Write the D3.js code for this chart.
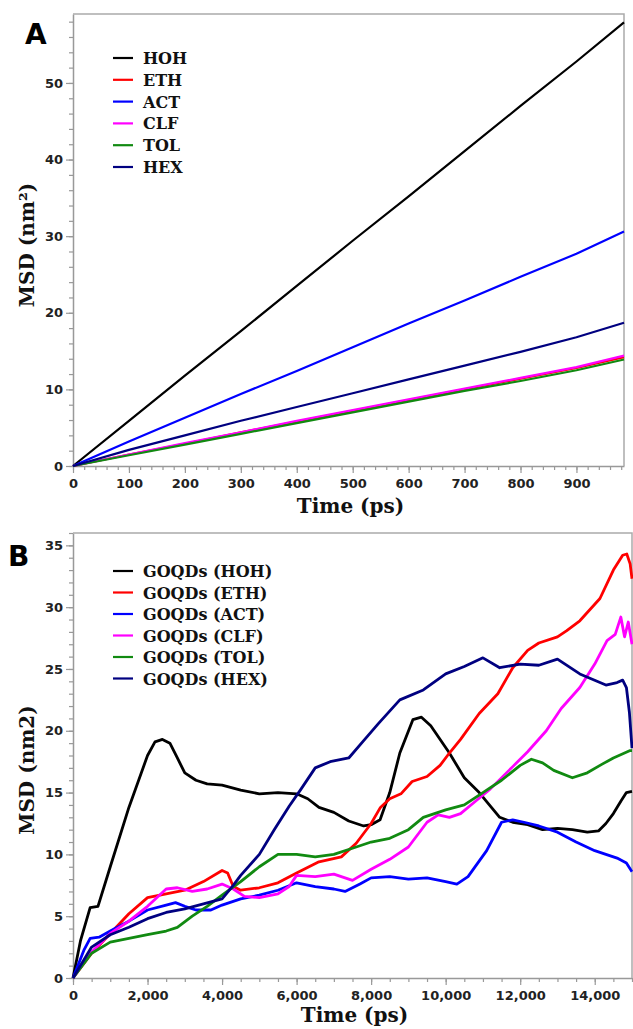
<!DOCTYPE html>
<html>
<head>
<meta charset="utf-8">
<script src="https://cdn.jsdelivr.net/npm/d3@7"></script>
<style>
  body { margin: 0; background: #fff; }
  .tick text { font-family: "DejaVu Sans", sans-serif; font-weight: bold; font-size: 13px; fill: #222; }
  .domain { stroke: #999; stroke-width: 1.5; }
  .tick line { stroke: #999; stroke-width: 1.2; }
  .ttl { font-family: "DejaVu Serif", serif; font-weight: bold; font-size: 20px; fill: #111; }
  .leg { font-family: "DejaVu Serif", serif; font-weight: bold; font-size: 16px; fill: #111; }
  .panel { font-family: "DejaVu Sans", sans-serif; font-weight: bold; font-size: 28px; fill: #000; }
</style>
</head>
<body>
<div id="chart"></div>
<script>
const WIDTH = 633;
const HEIGHT = 1029;

// panel A: MSD of pure solvents
const namesA = ["HOH", "ETH", "ACT", "CLF", "TOL", "HEX"];
const timesA = [0, 100, 200, 300, 400, 500, 600, 700, 800, 900, 985];
const hohA = [0, 5.9, 11.8, 17.6, 23.5, 29.4, 35.2, 41.1, 47.0, 52.8, 57.9];
const ethA = [0, 1.5, 2.9, 4.4, 5.8, 7.2, 8.6, 10.0, 11.4, 12.8, 14.2];
const actA = [0, 3.2, 6.3, 9.4, 12.4, 15.5, 18.6, 21.6, 24.7, 27.7, 30.6];
const clfA = [0, 1.5, 3.0, 4.4, 5.9, 7.3, 8.7, 10.1, 11.5, 12.9, 14.4];
const tolA = [0, 1.4, 2.8, 4.2, 5.6, 7.0, 8.4, 9.8, 11.1, 12.5, 13.9];
const hexA = [0, 2.1, 4.0, 5.9, 7.7, 9.5, 11.3, 13.1, 14.9, 16.8, 18.7];

// panel B: MSD of GOQDs in each solvent, [time ps, msd]
const namesB = ["GOQDs (HOH)", "GOQDs (ETH)", "GOQDs (ACT)", "GOQDs (CLF)", "GOQDs (TOL)", "GOQDs (HEX)"];
const hohB = [[0,0],[200,3],[460,5.7],[670,5.8],[1000,9.0],[1500,13.8],[2000,18.0],[2200,19.1],[2400,19.3],[2600,19.0],[2800,17.8],[3000,16.6],[3300,16.0],[3600,15.7],[4000,15.6],[4500,15.2],[5000,14.9],[5500,15.0],[6000,14.9],[6300,14.5],[6600,13.8],[7000,13.4],[7400,12.7],[7800,12.3],[8000,12.4],[8240,12.8],[8500,15.0],[8770,18.2],[9120,20.9],[9350,21.1],[9600,20.4],[10100,18.2],[10500,16.2],[10900,15.0],[11450,13.0],[11800,12.6],[12200,12.4],[12600,12.0],[13000,12.1],[13400,12.0],[13800,11.8],[14100,11.9],[14300,12.5],[14500,13.3],[14700,14.3],[14850,15.0],[15000,15.1]];
const ethB = [[0,0],[500,2.0],[1000,3.6],[1500,5.2],[2000,6.5],[2500,6.8],[3000,7.1],[3500,7.8],[4000,8.7],[4150,8.5],[4300,7.4],[4500,7.1],[5000,7.3],[5500,7.7],[6000,8.5],[6600,9.4],[7200,9.8],[7600,10.9],[8000,12.5],[8250,13.8],[8500,14.5],[8800,14.9],[9100,15.9],[9500,16.3],[9850,17.2],[10100,18.2],[10400,19.3],[10900,21.4],[11400,23.0],[11800,25.1],[12200,26.5],[12500,27.1],[13000,27.6],[13250,28.1],[13600,28.9],[14140,30.7],[14500,33.0],[14750,34.2],[14860,34.3],[14950,33.5],[15000,32.3]];
const actB = [[0,0],[300,2.3],[460,3.2],[700,3.3],[1000,3.8],[1500,4.6],[2000,5.5],[2500,5.9],[2750,6.1],[3000,5.8],[3300,5.5],[3700,5.5],[4000,5.9],[4500,6.4],[5000,6.7],[5500,7.1],[6000,7.7],[6500,7.4],[7000,7.2],[7300,7.0],[7700,7.6],[8000,8.1],[8500,8.2],[9000,8.0],[9500,8.1],[10000,7.8],[10300,7.6],[10600,8.2],[11100,10.3],[11500,12.6],[11800,12.8],[12100,12.6],[12500,12.3],[13000,11.8],[13500,11.0],[14000,10.3],[14300,10.0],[14600,9.7],[14850,9.3],[15000,8.6]];
const clfB = [[0,0],[500,2.1],[1000,3.6],[1500,4.6],[2000,5.8],[2500,7.2],[2800,7.3],[3200,7.0],[3600,7.2],[4000,7.6],[4300,7.2],[4600,6.6],[5000,6.5],[5500,6.8],[5800,7.4],[6000,8.3],[6500,8.2],[7000,8.4],[7500,7.9],[8000,8.8],[8500,9.6],[9000,10.6],[9500,12.6],[9800,13.2],[10100,13.0],[10400,13.3],[10800,14.3],[11200,15.3],[11800,17.1],[12200,18.3],[12700,20.0],[13100,21.8],[13600,23.5],[14000,25.4],[14330,27.3],[14550,27.8],[14700,29.2],[14800,27.6],[14900,28.8],[15000,27.0]];
const tolB = [[0,0],[500,2.0],[1000,2.9],[1500,3.2],[2000,3.5],[2500,3.8],[2800,4.1],[3200,5.0],[3600,5.8],[4000,6.7],[4500,7.8],[5000,9.0],[5500,10.0],[6000,10.0],[6500,9.8],[7000,10.0],[7500,10.5],[8000,11.0],[8500,11.3],[9000,12.0],[9400,13.0],[10000,13.6],[10500,14.0],[11000,15.0],[11500,16.0],[12000,17.2],[12300,17.7],[12600,17.4],[12900,16.8],[13400,16.2],[13800,16.6],[14200,17.3],[14500,17.8],[14950,18.4],[15000,18.4]];
const hexB = [[0,0],[500,2.5],[1000,3.5],[1500,4.1],[2000,4.8],[2500,5.3],[3000,5.6],[3500,6.0],[4000,6.4],[4300,7.5],[4500,8.3],[5000,10.0],[5400,12.0],[5800,13.9],[6100,15.2],[6500,17.0],[6900,17.5],[7400,17.8],[7800,19.2],[8200,20.6],[8770,22.5],[9400,23.3],[10000,24.6],[10500,25.2],[11000,25.9],[11450,25.1],[12000,25.4],[12500,25.3],[13000,25.8],[13600,24.6],[14300,23.7],[14600,23.9],[14750,24.1],[14850,23.5],[14930,21.5],[15000,18.6]];

const colors = ["#000000", "#ff0000", "#0000ff", "#ff00ff", "#118a11", "#000080"];

const svg = d3.select("#chart").append("svg").attr("width", WIDTH).attr("height", HEIGHT);

function panel(opt) {
    const x = d3.scaleLinear().domain(opt.xDomain).range([opt.left, opt.right]);
    const y = d3.scaleLinear().domain(opt.yDomain).range([opt.bottom, opt.top]);
    const g = svg.append("g");

    // minor ticks
    g.append("g").attr("transform", "translate(0," + opt.bottom + ")")
        .call(d3.axisBottom(x).tickValues(opt.xMinor).tickSize(4).tickFormat(""))
        .call(s => s.select(".domain").remove());
    g.append("g").attr("transform", "translate(" + opt.left + ",0)")
        .call(d3.axisLeft(y).tickValues(opt.yMinor).tickSize(4).tickFormat(""))
        .call(s => s.select(".domain").remove());
    // major ticks
    g.append("g").attr("transform", "translate(0," + opt.bottom + ")")
        .call(d3.axisBottom(x).tickValues(opt.xMajor).tickSize(7).tickSizeOuter(0).tickPadding(6).tickFormat(opt.xFormat));
    g.append("g").attr("transform", "translate(" + opt.left + ",0)")
        .call(d3.axisLeft(y).tickValues(opt.yMajor).tickSize(7).tickSizeOuter(0).tickPadding(3));

    // frame top/right
    g.append("path")
        .attr("d", "M" + opt.left + "," + opt.top + "H" + opt.right + "V" + opt.bottom)
        .attr("fill", "none").attr("stroke", "#aaa").attr("stroke-width", 1.5);

    const line = d3.line().x(d => x(d[0])).y(d => y(d[1]));
    g.append("g").selectAll("path")
        .data(opt.series)
        .join("path")
        .attr("d", d => line(d))
        .attr("fill", "none")
        .attr("stroke", (d, i) => colors[i])
        .attr("stroke-width", opt.lw)
        .attr("stroke-linejoin", "round");

    // legend
    const leg = g.append("g");
    opt.names.forEach((n, i) => {
        const yy = opt.legY + i * opt.legStep;
        leg.append("line").attr("x1", 113).attr("x2", 133).attr("y1", yy).attr("y2", yy)
            .attr("stroke", colors[i]).attr("stroke-width", 2.2);
        leg.append("text").attr("class", "leg").attr("x", 143).attr("y", yy + 6).text(n);
    });

    // titles
    g.append("text").attr("class", "ttl").attr("text-anchor", "middle")
        .attr("x", (opt.left + opt.right) / 2 + 2).attr("y", opt.bottom + opt.xTitleDy).text("Time (ps)");
    g.append("text").attr("class", "ttl").attr("text-anchor", "middle")
        .attr("transform", "translate(34," + opt.yTitleY + ") rotate(-90)").text(opt.yTitle);
    g.append("text").attr("class", "panel").attr("x", opt.labX).attr("y", opt.labY).text(opt.label);
}

panel({
    left: 73, right: 624, top: 14, bottom: 466,
    xDomain: [0, 985], yDomain: [0, 59],
    xMajor: d3.range(0, 901, 100), xMinor: d3.range(0, 985, 20),
    yMajor: d3.range(0, 51, 10), yMinor: d3.range(0, 59, 2),
    xFormat: d3.format("d"),
    series: [hohA, ethA, actA, clfA, tolA, hexA].map(s => s.map((v, i) => [timesA[i], v])),
    names: namesA, legY: 58, legStep: 21.8, lw: 2.2,
    xTitleDy: 47,
    yTitle: "MSD (nm²)", yTitleY: 245,
    label: "A", labX: 25, labY: 44
});

panel({
    left: 73, right: 632, top: 533, bottom: 978,
    xDomain: [0, 15000], yDomain: [0, 36],
    xMajor: d3.range(0, 14001, 2000), xMinor: d3.range(0, 15001, 500),
    yMajor: d3.range(0, 36, 5), yMinor: d3.range(0, 37, 1),
    xFormat: d3.format(","),
    series: [hohB, ethB, actB, clfB, tolB, hexB],
    names: namesB, legY: 571, legStep: 21.5, lw: 2.8,
    xTitleDy: 44,
    yTitle: "MSD (nm2)", yTitleY: 770,
    label: "B", labX: 8, labY: 566
});
</script>
</body>
</html>
